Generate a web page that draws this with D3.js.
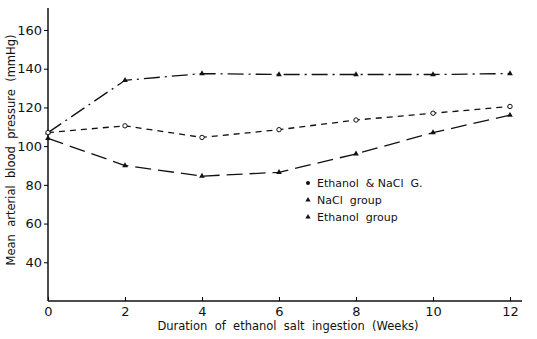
<!DOCTYPE html>
<html>
<head>
<meta charset="utf-8">
<script src="https://cdn.jsdelivr.net/npm/d3@7"></script>
<style>
  body { margin: 0; background: #fff; }
  text { font-family: "DejaVu Sans", sans-serif; fill: #111; }
</style>
</head>
<body>
<svg width="537" height="339"></svg>
<script>
// data
var weeks = [0, 2, 4, 6, 8, 10, 12];
var ethanolNaCl = [107, 110.5, 104.5, 108.5, 113.5, 117, 120.5];
var naclGroup = [107, 134, 137.5, 137, 137, 137, 137.5];
var ethanolGroup = [104, 90, 84.5, 86.5, 96, 107, 116];
var yTicks = [40, 60, 80, 100, 120, 140, 160];
var xTicks = [0, 2, 4, 6, 8, 10, 12];
var legendLabels = ["Ethanol  & NaCl  G.", "NaCl  group", "Ethanol  group"];

var svg = d3.select('svg');
var x = d3.scaleLinear().domain([0, 12]).range([48, 510]);
var y = d3.scaleLinear().domain([20, 160]).range([301, 30]);

// axes
var xAxis = svg.append('g')
    .attr('transform', 'translate(0,301)')
    .call(d3.axisBottom(x).tickValues(xTicks).tickSize(-4).tickPadding(6));
xAxis.select('.domain').attr('d', 'M48,0H522').attr('stroke', '#111').attr('stroke-width', 1.5);
xAxis.selectAll('text').style('font-size', '13px');

var yAxis = svg.append('g')
    .attr('transform', 'translate(48,0)')
    .call(d3.axisLeft(y).tickValues(yTicks).tickSize(4).tickPadding(2));
yAxis.select('.domain').attr('d', 'M0,301V8').attr('stroke', '#111').attr('stroke-width', 1.5);
yAxis.selectAll('text').style('font-size', '13px');

// series
var line = d3.line()
    .x(function(d, i) { return x(weeks[i]); })
    .y(function(d) { return y(d); });

function drawSeries(vals, dash, marker) {
  svg.append('path')
    .attr('d', line(vals))
    .attr('fill', 'none')
    .attr('stroke', '#111')
    .attr('stroke-width', 1.3)
    .attr('stroke-dasharray', dash);
  vals.forEach(function(v, i) {
    if (marker === 'circle') {
      svg.append('circle')
        .attr('cx', x(weeks[i])).attr('cy', y(v)).attr('r', 2.2)
        .attr('fill', '#fff').attr('stroke', '#111').attr('stroke-width', 1);
    } else {
      svg.append('path')
        .attr('d', d3.symbol().type(d3.symbolTriangle).size(14)())
        .attr('transform', 'translate(' + x(weeks[i]) + ',' + y(v) + ')')
        .attr('fill', '#111');
    }
  });
}

drawSeries(naclGroup, '16,5,2,5', 'triangle');
drawSeries(ethanolNaCl, '6,5', 'circle');
drawSeries(ethanolGroup, '16,7', 'triangle');

// legend
var legend = svg.append('g').attr('transform', 'translate(308,183)');
legendLabels.forEach(function(lbl, i) {
  var g = legend.append('g').attr('transform', 'translate(0,' + (i * 17) + ')');
  if (i === 0) {
    g.append('circle').attr('r', 2).attr('fill', '#111');
  } else {
    g.append('path').attr('d', d3.symbol().type(d3.symbolTriangle).size(12)()).attr('fill', '#111');
  }
  g.append('text').attr('x', 9).attr('y', 4).style('font-size', '11px').attr('xml:space', 'preserve').text(lbl);
});

// axis titles
svg.append('text')
  .attr('x', 288).attr('y', 330)
  .attr('text-anchor', 'middle')
  .style('font-size', '11.5px')
  .attr('xml:space', 'preserve')
  .text('Duration  of  ethanol  salt  ingestion  (Weeks)');

svg.append('text')
  .attr('transform', 'translate(15,150) rotate(-90)')
  .attr('text-anchor', 'middle')
  .style('font-size', '11.5px')
  .attr('xml:space', 'preserve')
  .text('Mean  arterial  blood  pressure  (mmHg)');
</script>
</body>
</html>
